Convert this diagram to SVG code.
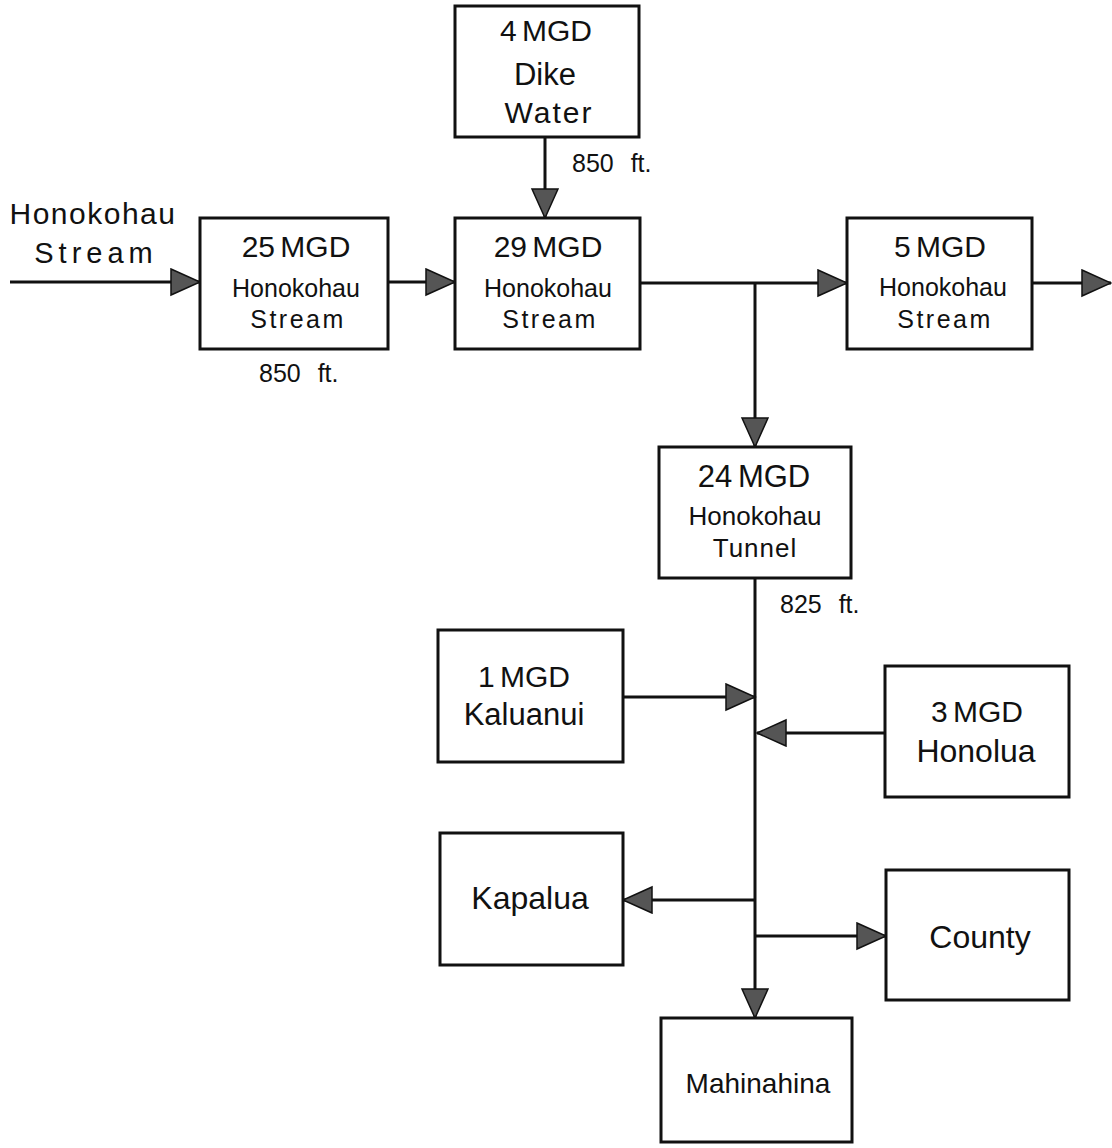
<svg xmlns="http://www.w3.org/2000/svg" width="1112" height="1148" viewBox="0 0 1112 1148">
<defs>
<style>
.box{fill:#fff;stroke:#111;stroke-width:3}
.ln{fill:none;stroke:#111;stroke-width:3;marker-end:url(#ah)}
text{font-family:"Liberation Sans",Arial,sans-serif;fill:#111;text-anchor:middle}
.big{font-size:30px;word-spacing:-3px}
.name{font-size:32px}
.mid{font-size:25px}
.lbl{font-size:25px;text-anchor:start;word-spacing:10px}
</style>
<marker id="ah" markerUnits="userSpaceOnUse" markerWidth="32" markerHeight="30" refX="30" refY="14" orient="auto" viewBox="0 0 32 30">
<path d="M1,1 L30,14 L1,27 Z" fill="#555" stroke="#111" stroke-width="1.5"/>
</marker>
</defs>
<rect width="1112" height="1148" fill="#fff"/>
<g id="connectors">
<path class="ln" d="M10,282 H200"/>
<path class="ln" d="M388,282 H455"/>
<path class="ln" d="M545,137 V218"/>
<path class="ln" d="M640,283 H847"/>
<path class="ln" d="M755,283 V447"/>
<path class="ln" d="M1032,283 H1111"/>
<path class="ln" d="M755,578 V1018"/>
<path class="ln" d="M623,697 H755"/>
<path class="ln" d="M885,733 H757"/>
<path class="ln" d="M755,900 H623"/>
<path class="ln" d="M755,936 H886"/>
</g>
<g id="labels">
<text x="93" y="224" style="font-size:30px;letter-spacing:1.5px">Honokohau</text>
<text x="96" y="263" style="font-size:29px;letter-spacing:5px">Stream</text>
<text class="lbl" x="572" y="172">850 ft.</text>
<text class="lbl" x="259" y="382">850 ft.</text>
<text class="lbl" x="780" y="613">825 ft.</text>
</g>
<g id="dike">
<rect class="box" x="455" y="6" width="184" height="131"/>
<text class="big" x="546" y="41">4 MGD</text>
<text class="name" x="545" y="85" style="font-size:31px">Dike</text>
<text class="name" x="549" y="123" style="font-size:30px;letter-spacing:2px">Water</text>
</g>
<g id="n25">
<rect class="box" x="200" y="218" width="188" height="131"/>
<text class="big" x="296" y="257">25 MGD</text>
<text class="mid" x="296" y="297">Honokohau</text>
<text class="mid" x="298" y="328" style="letter-spacing:2.5px">Stream</text>
</g>
<g id="n29">
<rect class="box" x="455" y="218" width="185" height="131"/>
<text class="big" x="548" y="257">29 MGD</text>
<text class="mid" x="548" y="297">Honokohau</text>
<text class="mid" x="550" y="328" style="letter-spacing:2.5px">Stream</text>
</g>
<g id="n5">
<rect class="box" x="847" y="218" width="185" height="131"/>
<text class="big" x="940" y="257">5 MGD</text>
<text class="mid" x="943" y="296">Honokohau</text>
<text class="mid" x="945" y="328" style="letter-spacing:2.5px">Stream</text>
</g>
<g id="n24">
<rect class="box" x="659" y="447" width="192" height="131"/>
<text class="big" x="754" y="487" style="font-size:31px">24 MGD</text>
<text class="mid" x="755" y="525" style="font-size:26px">Honokohau</text>
<text class="mid" x="755" y="557" style="font-size:26px;letter-spacing:1px">Tunnel</text>
</g>
<g id="kaluanui">
<rect class="box" x="438" y="630" width="185" height="132"/>
<text class="big" x="524" y="687">1 MGD</text>
<text class="name" x="524" y="725" style="font-size:31px">Kaluanui</text>
</g>
<g id="honolua">
<rect class="box" x="885" y="666" width="184" height="131"/>
<text class="big" x="977" y="722">3 MGD</text>
<text class="name" x="976" y="762">Honolua</text>
</g>
<g id="kapalua">
<rect class="box" x="440" y="833" width="183" height="132"/>
<text class="name" x="530" y="909">Kapalua</text>
</g>
<g id="county">
<rect class="box" x="886" y="870" width="183" height="130"/>
<text class="name" x="980" y="948">County</text>
</g>
<g id="mahinahina">
<rect class="box" x="661" y="1018" width="191" height="124"/>
<text class="mid" x="758" y="1093" style="font-size:28px">Mahinahina</text>
</g>
</svg>
